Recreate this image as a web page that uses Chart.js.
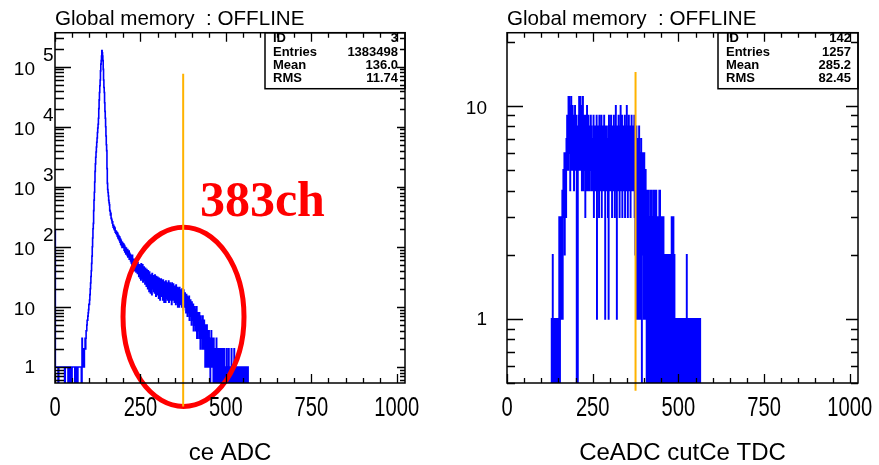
<!DOCTYPE html>
<html><head><meta charset="utf-8">
<script src="https://cdn.jsdelivr.net/npm/chart.js@4.4.0/dist/chart.umd.min.js"></script>
<style>
html,body{margin:0;padding:0;background:#fff;}
#wrap{position:relative;width:879px;height:465px;overflow:hidden;background:#fff;}
#c1{position:absolute;left:0;top:0;}
#c2{position:absolute;left:440px;top:0;}
</style></head><body>
<div id="wrap"><canvas id="c1" width="440" height="465"></canvas><canvas id="c2" width="439" height="465"></canvas></div>
<script>
// ---------------- data ----------------
const CH_PER_BIN = 1;
const xTickValues = [0, 250, 500, 750, 1000];
const statsLabels = ['ID', 'Entries', 'Mean', 'RMS'];
const ceAdcStats = ['3', '1383498', '136.0', '11.74'];
const tdcStats = ['142', '1257', '285.2', '82.45'];
const cutChannel = 375;
const annotationText = '383ch';

// ce ADC: counts per channel, starting at channel 0
const ceAdcStart = 0;
const ceAdcCounts = [
 190,1,1,1,1,1,1,1,1,0,
 0,1,1,1,1,1,1,1,1,1,
 1,1,1,1,1,1,1,1,0,0,
 1,1,1,1,1,1,1,1,0,1,
 0,1,1,0,1,1,0,0,1,0,
 1,1,1,1,1,1,1,1,0,0,
 1,1,1,0,1,1,0,1,1,1,
 1,1,1,1,1,1,1,0,0,3,
 1,1,1,2,1,1,2,2,3,2,
 3,4,4,5,6,6,7,8,9,11,
 11,13,16,20,25,32,40,53,70,100,
 140,200,246,400,600,810,1200,1800,2400,3100,
 3800,4600,5500,6500,8000,9500,11000,13800,20000,28000,
 37000,48000,60000,85000,110000,126000,150000,185000,170000,150000,
 126000,90000,60000,45000,37000,25000,18000,13800,10000,7000,
 5000,4000,2000,1140,900,800,700,593,540,500,
 405,390,340,360,300,290,276,250,262,230,
 212,228,200,215,190,205,175,185,168,180,
 160,172,150,168,140,155,135,150,128,145,
 119,135,110,128,105,120,98,118,100,112,
 98,110,88,105,82,98,90,76,95,80,
 88,72,90,68,82,70,85,62,78,66,
 74,58,70,54,66,50,72,55,62,48,
 60,44,58,40,62,46,52,38,56,42,
 50,36,54,40,46,32,50,38,44,30,
 48,28,52,34,44,30,50,26,42,36,
 46,28,40,24,44,30,38,22,42,32,
 36,20,40,26,34,18,38,24,32,17,
 34,22,30,16,36,20,28,24,33,18,
 30,17,34,22,27,15,32,20,29,16,
 31,19,26,14,30,21,28,13,25,18,
 29,15,27,20,24,13,28,17,25,12,
 26,16,24,12,27,18,22,14,25,13,
 24,15,27,12,22,17,25,13,21,16,
 23,11,25,16,20,13,24,15,19,12,
 22,14,20,11,23,15,18,12,21,10,
 20,13,18,10,21,14,17,11,19,12,
 18,10,20,13,16,9,19,12,15,10,
 17,11,14,8,16,10,15,7,13,9,
 14,8,15,6,12,9,13,7,11,5,
 12,6,10,7,11,4,9,6,10,5,
 9,4,8,5,10,3,7,5,8,4,
 7,3,8,4,6,2,7,4,5,3,
 6,2,7,3,5,2,6,3,4,1,
 5,2,4,1,5,3,2,4,1,3,
 4,1,3,2,0,3,1,4,2,1,
 3,1,2,0,3,1,2,1,0,2,
 2,0,3,1,1,0,2,1,0,2,
 1,0,2,1,0,2,0,1,1,0,
 2,0,1,0,1,2,0,1,0,1,
 0,1,2,0,1,0,1,0,2,1,
 0,1,0,1,1,0,2,0,1,0,
 1,0,1,0,2,0,1,1,0,1,
 0,1,0,1,0,1,1,0,1,0,
 1,0,1,0,0,1,0,1,0,1,
 0,1,0,1,1,0,1,0,0,1,
 0,1,1,0,1
];

// CeADC cutCe TDC: counts per channel, starting at channel 130
const tdcStart = 130;
const tdcCounts = [
 1,0,1,2,0,1,1,0,1,0,
 1,1,0,1,0,1,1,0,1,1,
 0,1,3,1,0,2,1,3,1,2,
 2,4,1,3,5,4,3,6,2,5,
 4,6,3,7,5,9,6,8,5,11,
 8,11,6,10,4,9,7,11,5,8,
 6,10,5,9,7,4,8,6,10,5,
 7,5,9,0,6,8,0,7,5,9,
 11,6,8,5,11,7,9,6,4,10,
 6,11,4,8,6,9,5,7,3,9,
 5,8,4,10,6,7,4,9,5,7,
 8,4,7,5,9,6,8,4,7,5,
 7,4,9,3,8,5,8,4,7,6,
 4,9,1,7,5,8,4,7,3,9,
 5,7,4,8,6,9,3,7,5,8,
 4,7,5,9,6,4,1,8,5,7,
 4,8,6,7,3,6,1,9,4,7,
 5,8,4,9,6,7,3,8,5,6,
 4,9,5,7,3,8,6,10,4,7,
 1,8,5,7,4,9,6,7,3,8,
 5,10,4,7,6,9,3,7,5,8,
 4,7,6,9,3,8,5,7,4,10,
 6,7,3,8,5,9,4,7,6,8,
 3,7,5,9,4,7,6,8,4,7,
 5,9,3,6,2,7,1,8,2,5,
 1,7,3,6,1,8,4,5,1,6,
 2,7,1,0,5,2,6,3,4,1,
 6,1,4,2,5,1,4,0,3,1,
 4,0,4,1,3,0,3,1,4,0,
 3,1,4,0,3,1,0,2,4,1,
 0,3,1,4,0,4,1,0,3,2,
 1,0,3,1,4,0,4,1,0,3,
 1,3,0,3,1,0,3,1,0,2,
 1,0,2,1,0,2,0,1,2,0,
 1,2,0,1,0,2,1,0,1,0,
 3,0,1,2,0,3,1,0,2,1,
 0,1,0,1,1,0,1,0,1,0,
 1,0,1,1,0,1,0,0,1,0,
 1,0,0,1,0,0,1,0,0,0,
 1,0,0,1,2,0,1,0,0,1,
 0,0,1,0,0,1,0,0,0,1,
 0,1,0,0,0,1,0,0,1,0,
 0,0,1,0,1,0,0,0,1,0,
 1,0,0,1
];

// axis ranges and annotation positions (data units)
const xRange = [0, 1024];
const leftYRange = [0.54, 3.67e5];
const rightYRange = [0.5, 22];
const leftCutLineY = [7.6e4, 0.22];
const rightCutLineY = [14.4, 0.46];
const ellipseX = [199, 553];
const ellipseY = [0.22, 212];
const annotationPos = [424, 322];

// ---------------- helpers ----------------
const SANS = '"Liberation Sans", Arial, sans-serif';
const ZERO_DRAW = 0.05; // empty bins are drawn below the axis minimum

function histPoints(start, counts) {
  const pts = [{x: start, y: ZERO_DRAW}];
  counts.forEach((c, i) => pts.push({x: start + i * CH_PER_BIN, y: c > 0 ? c : ZERO_DRAW}));
  pts.push({x: start + counts.length * CH_PER_BIN, y: ZERO_DRAW});
  return pts;
}

function logTicks(min, max) {
  const majors = [], minors = [];
  for (let e = -1; e <= 6; e++) {
    for (let m = 1; m <= 9; m++) {
      const v = m * Math.pow(10, e);
      if (v < min || v > max) continue;
      (m === 1 ? majors : minors).push(v);
    }
  }
  return {majors, minors};
}

const decor = {
  id: 'decor',
  afterDatasetDraw(chart, args, o) {
    if (args.index !== 1 || !o.ellipse) return;
    const {ctx} = chart; const {x, y} = chart.scales;
    const x0 = x.getPixelForValue(o.ellipse.x[0]), x1 = x.getPixelForValue(o.ellipse.x[1]);
    const y0 = y.getPixelForValue(o.ellipse.y[0]), y1 = y.getPixelForValue(o.ellipse.y[1]);
    ctx.save();
    ctx.strokeStyle = '#ff0000'; ctx.lineWidth = 5;
    ctx.beginPath();
    ctx.ellipse((x0 + x1) / 2, (y0 + y1) / 2, Math.abs(x1 - x0) / 2, Math.abs(y1 - y0) / 2, 0, 0, Math.PI * 2);
    ctx.stroke();
    ctx.restore();
  },
  afterDraw(chart, args, o) {
    const {ctx, chartArea: a} = chart; const {x, y} = chart.scales;
    ctx.save();
    // stats box
    const bw = 140, bh = 56;
    ctx.fillStyle = '#fff';
    ctx.fillRect(a.right - bw, a.top, bw, bh);
    ctx.strokeStyle = '#000'; ctx.lineWidth = 1.5;
    ctx.strokeRect(a.right - bw, a.top, bw, bh);
    ctx.fillStyle = '#000';
    ctx.font = 'bold 13px ' + SANS;
    ctx.textBaseline = 'middle';
    const rows = [5.5, 19.5, 32.5, 46];
    statsLabels.forEach((lab, i) => {
      ctx.textAlign = 'left';
      ctx.fillText(lab, a.right - bw + 8, a.top + rows[i]);
      ctx.textAlign = 'right';
      ctx.fillText(o.stats[i], a.right - 7, a.top + rows[i]);
    });
    // frame
    ctx.strokeStyle = '#000'; ctx.lineWidth = 1.5;
    ctx.strokeRect(a.left, a.top, a.right - a.left, a.bottom - a.top);
    ctx.lineWidth = 1.3;
    ctx.beginPath();
    for (let v = 0; v <= 1000; v += 50) {
      const px = Math.round(x.getPixelForValue(v)) + 0.5;
      const len = v % 250 === 0 ? 9 : 5;
      ctx.moveTo(px, a.bottom); ctx.lineTo(px, a.bottom - len);
      ctx.moveTo(px, a.top); ctx.lineTo(px, a.top + len);
    }
    const t = logTicks(y.min, y.max);
    t.majors.forEach(v => {
      const py = Math.round(y.getPixelForValue(v)) + 0.5;
      ctx.moveTo(a.left, py); ctx.lineTo(a.left + o.tickL[0], py);
      ctx.moveTo(a.right, py); ctx.lineTo(a.right - o.tickR[0], py);
    });
    t.minors.forEach(v => {
      const py = Math.round(y.getPixelForValue(v)) + 0.5;
      ctx.moveTo(a.left, py); ctx.lineTo(a.left + o.tickL[1], py);
      ctx.moveTo(a.right, py); ctx.lineTo(a.right - o.tickR[1], py);
    });
    ctx.stroke();
    // x tick labels (condensed, as in the original)
    ctx.font = '28px ' + SANS;
    ctx.textAlign = 'center'; ctx.textBaseline = 'alphabetic';
    xTickValues.forEach(v => {
      ctx.save();
      ctx.translate(x.getPixelForValue(v), a.bottom + 33);
      ctx.scale(0.72, 1);
      ctx.fillText(String(v), 0, 0);
      ctx.restore();
    });
    // y labels
    ctx.font = '19px ' + SANS;
    ctx.textBaseline = 'middle';
    t.majors.forEach(v => {
      const py = y.getPixelForValue(v);
      const exp = Math.round(Math.log10(v));
      ctx.textAlign = 'right';
      if (exp === 0) { ctx.fillText('1', a.left - 20, py + 1); return; }
      ctx.fillText('10', a.left - 20, py + 3);
      if (exp >= 2 && o.sup) {
        ctx.textAlign = 'left';
        ctx.fillText(String(exp), a.left - 12, py - 11);
      }
    });
    // annotation text
    if (o.note) {
      ctx.fillStyle = '#ff0000';
      ctx.font = 'bold 50px "Liberation Serif", "DejaVu Serif", serif';
      ctx.textAlign = 'left'; ctx.textBaseline = 'alphabetic';
      ctx.fillText(annotationText, x.getPixelForValue(o.note[0]), y.getPixelForValue(o.note[1]));
    }
    ctx.restore();
  }
};

function makeChart(id, cfg) {
  return new Chart(document.getElementById(id), {
    type: 'line',
    data: {
      datasets: [
        {data: [{x: cutChannel, y: cfg.cutY[0]}, {x: cutChannel, y: cfg.cutY[1]}],
         borderColor: '#ffb300', borderWidth: 2, pointRadius: 0, clip: false},
        {data: histPoints(cfg.start, cfg.counts), stepped: true,
         borderColor: '#0000ff', borderWidth: 1.6, pointRadius: 0, fill: false}
      ]
    },
    options: {
      responsive: false, devicePixelRatio: 1, animation: false,
      layout: {padding: {left: cfg.padL, right: cfg.padR, top: 0, bottom: 0}},
      plugins: {
        legend: {display: false}, tooltip: {enabled: false},
        title: {display: true, text: 'Global memory  : OFFLINE', align: 'start', fullSize: false,
                color: '#000', font: {family: SANS, size: 20.6, weight: 'normal'}, padding: {top: 7, bottom: 1}},
        decor: cfg.decor
      },
      scales: {
        x: {type: 'linear', min: xRange[0], max: xRange[1],
            afterBuildTicks: s => { s.ticks = xTickValues.map(v => ({value: v})); },
            afterFit: s => { s.height = 82; },
            ticks: {display: false},
            grid: {display: false, drawTicks: false}, border: {display: false},
            title: {display: true, text: cfg.xTitle, color: '#000', font: {family: SANS, size: 24, lineHeight: 1},
                    padding: {top: 0, bottom: 0}}},
        y: {type: 'logarithmic', min: cfg.yRange[0], max: cfg.yRange[1], display: false}
      }
    },
    plugins: [decor]
  });
}

makeChart('c1', {start: ceAdcStart, counts: ceAdcCounts, cutY: leftCutLineY, yRange: leftYRange,
  padL: 55, padR: 35, xTitle: 'ce ADC',
  decor: {stats: ceAdcStats, tickL: [16, 9], tickR: [8, 5], sup: true, ellipse: {x: ellipseX, y: ellipseY}, note: annotationPos}});
makeChart('c2', {start: tdcStart, counts: tdcCounts, cutY: rightCutLineY, yRange: rightYRange,
  padL: 67, padR: 21, xTitle: 'CeADC cutCe TDC',
  decor: {stats: tdcStats, tickL: [16, 8], tickR: [12, 7], sup: false}});
</script>
</body></html>
